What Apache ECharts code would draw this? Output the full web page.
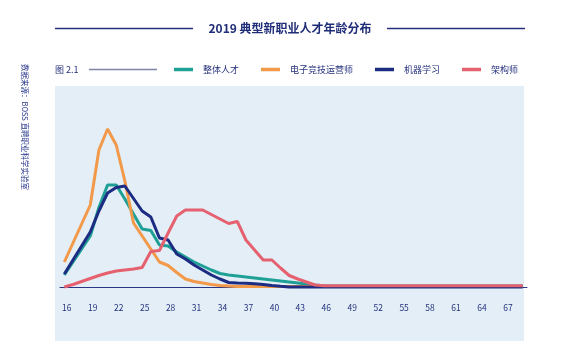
<!DOCTYPE html>
<html>
<head>
<meta charset="utf-8">
<script src="https://cdn.jsdelivr.net/npm/echarts@6/dist/echarts.min.js"></script>
<style>
html,body{margin:0;padding:0;background:#fff;}
#c{width:567px;height:354px;}
</style>
</head>
<body>
<div id="c"></div>
<script>
// Ages (categories)
var ages = [];
for (var a = 16; a <= 69; a++) ages.push(String(a));

// Share of talent by age (%)
var overall = [1.25,2.55,3.85,5.15,8.0,10.25,10.25,8.85,7.35,5.85,5.7,4.25,4.15,3.55,3.05,2.55,2.15,1.75,1.4,1.25,1.15,1.05,0.95,0.85,0.75,0.65,0.55,0.45,0.35,0.25,0.18,0.15,0.15,0.15,0.15,0.15,0.15,0.15,0.15,0.15,0.15,0.15,0.15,0.15,0.15,0.15,0.15,0.15,0.15,0.15,0.15,0.15,0.15,0.15];
var esports = [2.55,4.45,6.35,8.25,13.75,15.85,14.25,10.65,6.45,5.15,3.85,2.55,2.2,1.5,0.85,0.6,0.45,0.3,0.2,0.15,0.1,0.1,0.1,0.1,0.1,0.1,0.1,0.1,0.1,0.1,0.1,0.1,0.1,0.1,0.1,0.1,0.1,0.1,0.1,0.1,0.1,0.1,0.1,0.1,0.1,0.1,0.1,0.1,0.1,0.1,0.1,0.1,0.1,0.1];
var ml = [1.35,2.75,4.15,5.55,7.65,9.45,10.0,10.15,8.9,7.65,7.05,4.95,4.75,3.35,2.85,2.25,1.75,1.25,0.85,0.5,0.45,0.42,0.38,0.3,0.2,0.12,0.05,0.05,0.05,0.05,0.05,0.05,0.05,0.05,0.05,0.05,0.05,0.05,0.05,0.05,0.05,0.05,0.05,0.05,0.05,0.05,0.05,0.05,0.05,0.05,0.05,0.05,0.05,0.05];
var architect = [0.05,0.3,0.6,0.9,1.2,1.45,1.65,1.75,1.85,2.0,3.6,3.7,5.45,7.15,7.75,7.75,7.75,7.3,6.85,6.4,6.6,4.75,3.75,2.75,2.75,1.95,1.2,0.85,0.55,0.25,0.18,0.18,0.18,0.18,0.18,0.18,0.18,0.18,0.18,0.18,0.18,0.18,0.18,0.18,0.18,0.18,0.18,0.18,0.18,0.18,0.18,0.18,0.18,0.18];

var seriesNames = ['整体人才','电子竞技运营师','机器学习','架构师'];
var seriesColors = ['#1fa096','#f2994a','#1c2c82','#e5616f'];
var seriesData = [overall, esports, ml, architect];

var FONT = '"Noto Sans CJK SC","Noto Sans",sans-serif';
var NAVY = '#24307c';

var chart = echarts.init(document.getElementById('c'), null, {renderer:'canvas'});
var option = {
  backgroundColor: '#ffffff',
  animation: false,
  graphic: [
    {type:'rect', z:-10, shape:{x:55,y:86,width:469,height:255}, style:{fill:'#e3eef7'}},
    {type:'line', shape:{x1:55,y1:28.5,x2:193,y2:28.5}, style:{stroke:NAVY,lineWidth:1.5}},
    {type:'line', shape:{x1:387,y1:28.5,x2:525,y2:28.5}, style:{stroke:NAVY,lineWidth:1.5}},
    {type:'text', x:290, y:28.5, style:{text:'2019 典型新职业人才年龄分布', fill:'#1f2d78', font:'bold 12px '+FONT, align:'center', verticalAlign:'middle'}},
    {type:'text', x:55, y:69.5, style:{text:'图 2.1', fill:NAVY, font:'9px '+FONT, align:'left', verticalAlign:'middle'}},
    {type:'line', shape:{x1:89,y1:69.5,x2:157,y2:69.5}, style:{stroke:'#7d84a8',lineWidth:1.5}},
    {type:'text', x:25, y:127, rotation:-Math.PI/2, style:{text:'数据来源：BOSS 直聘职业科学实验室', fill:'#26348a', font:'7.5px '+FONT, align:'center', verticalAlign:'middle'}}
  ],
  legend: {
    left: 174, top: 65, padding: 0,
    icon: 'rect', itemWidth: 19, itemHeight: 3.5, itemGap: 22,
    textStyle: {color: NAVY, fontSize: 9, fontFamily: FONT, padding:[0,0,0,5]},
    data: seriesNames
  },
  grid: {left: 60, top: 87.5, width: 467, height: 200},
  xAxis: {
    type: 'category', data: ages, boundaryGap: true,
    axisLine: {lineStyle: {color: '#2a3585', width: 1}},
    axisTick: {show: false},
    axisLabel: {interval: 2, color: '#26347e', fontSize: 8.5, fontFamily: FONT, margin: 16, padding:[0,0,0,5]}
  },
  yAxis: {type: 'value', min: 0, max: 20, show: false, splitLine:{show:false}},
  series: seriesNames.map(function(n, i){
    return {name:n, type:'line', data: seriesData[i], symbol:'none', showSymbol:false,
      itemStyle:{color:seriesColors[i]}, lineStyle:{color:seriesColors[i], width:3}, z: 2+i};
  })
};
chart.setOption(option);
</script>
</body>
</html>
